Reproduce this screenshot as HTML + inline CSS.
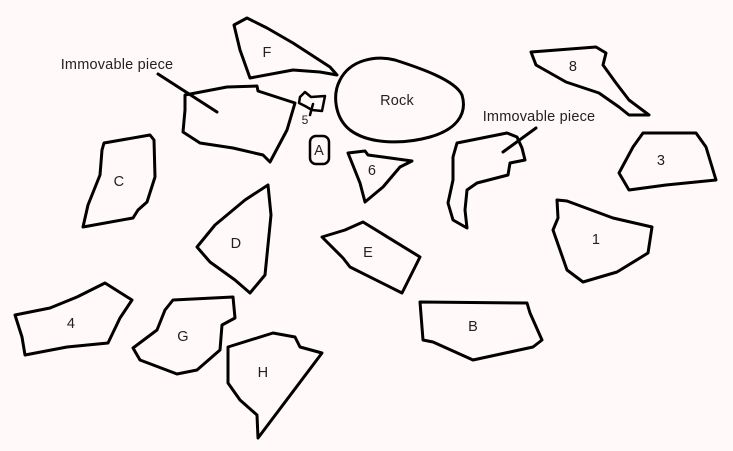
<!DOCTYPE html>
<html><head><meta charset="utf-8"><style>
html,body{margin:0;padding:0;background:#fff9f9;}
svg{display:block}
text{font-family:"Liberation Sans",sans-serif;font-size:14.5px;letter-spacing:0.2px;fill:#222;text-anchor:middle;dominant-baseline:middle}
.s{fill:none;stroke:#000;stroke-width:3;stroke-linejoin:round;stroke-linecap:round}
</style></head><body>
<svg width="733" height="451" viewBox="0 0 733 451" xmlns="http://www.w3.org/2000/svg">
<rect width="733" height="451" fill="#fff9f9"/>
<polygon class="s" points="234,25 247,18 267,28 293,43 330,67 337,75 320,72 293,70 250,78 240,50"/>
<text x="267" y="53">F</text>
<polygon class="s" points="185,95 227,87 257,86 258,91 295,103 287,130 270,162 263,155 233,148 200,143 183,132 185,110"/>
<line class="s" x1="158" y1="74" x2="217" y2="112"/>
<text x="117" y="65">Immovable piece</text>
<polygon class="s" points="299,103 300,97 305,92 311,97 325,96 322,111 312,110 305,106" style="stroke-width:2.5"/>
<line class="s" x1="313" y1="104" x2="310" y2="115" style="stroke-width:2.5"/>
<text x="305" y="121" style="font-size:12px">5</text>
<rect class="s" x="310" y="136" width="19" height="28" rx="6" style="stroke-width:2.5"/>
<text x="319" y="151">A</text>
<path class="s" d="M340,80 C350,60 375,55 395,60 C420,68 455,80 462,95 C468,115 455,130 430,137 C405,144 370,145 350,130 C335,118 332,95 340,80 Z"/>
<text x="397" y="101">Rock</text>
<polygon class="s" points="348,153 365,151 368,155 383,157 412,161 400,167 383,187 365,202 360,183"/>
<text x="372" y="171">6</text>
<polygon class="s" points="104,143 150,135 154,140 155,177 147,202 138,210 133,218 83,227 88,205 100,175 102,150"/>
<text x="119" y="182">C</text>
<polygon class="s" points="268,185 271,215 265,275 250,293 235,280 210,262 197,247 215,225 245,200"/>
<text x="236" y="244">D</text>
<polygon class="s" points="322,237 345,230 363,222 420,257 402,293 350,267 343,258"/>
<text x="368" y="253">E</text>
<polygon class="s" points="420,302 527,303 530,313 542,340 533,347 473,360 433,342 423,340"/>
<text x="473" y="327">B</text>
<polygon class="s" points="457,143 507,133 517,137 522,148 525,160 510,163 508,175 477,183 467,190 465,210 467,228 453,220 448,203 453,180 453,157"/>
<line class="s" x1="503" y1="152" x2="536" y2="128"/>
<text x="539" y="117">Immovable piece</text>
<polygon class="s" points="531,52 596,47 606,53 603,65 616,83 629,100 649,115 629,115 619,107 599,93 566,82 536,65"/>
<text x="573" y="67">8</text>
<polygon class="s" points="643,133 696,133 706,147 716,180 666,185 629,190 619,173 633,147"/>
<text x="661" y="161">3</text>
<polygon class="s" points="557,200 567,201 613,218 652,227 648,253 617,272 583,282 567,270 553,230 558,218"/>
<text x="596" y="240">1</text>
<polygon class="s" points="15,315 50,308 77,297 105,283 132,300 120,318 108,343 67,347 25,355 22,337"/>
<text x="71" y="324">4</text>
<polygon class="s" points="173,300 233,297 235,318 222,325 220,350 197,370 177,374 140,360 133,348 157,330 165,310"/>
<text x="183" y="337">G</text>
<polygon class="s" points="228,347 273,333 295,337 300,347 322,353 258,438 257,415 240,400 228,383"/>
<text x="263" y="373">H</text>
</svg>
</body></html>
